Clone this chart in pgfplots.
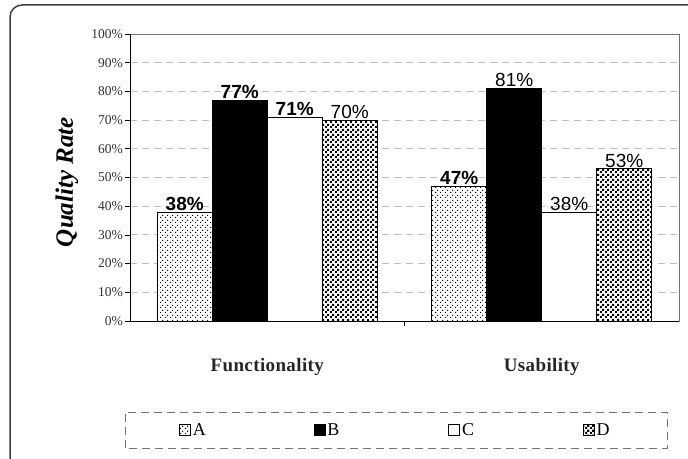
\documentclass[border=0pt]{standalone}
\usepackage{pgfplots}
\pgfplotsset{compat=1.18}
\usepackage{fontspec}
\setmainfont{Liberation Serif}
\setsansfont{Liberation Sans}
\newfontfamily\catfont[LetterSpace=2]{Liberation Serif}
\usetikzlibrary{patterns}

\pgfdeclarepatternformonly{sparsedots}{\pgfpointorigin}{\pgfpoint{5pt}{5pt}}{\pgfpoint{5pt}{5pt}}{%
 \pgfpathrectangle{\pgfpoint{0pt}{0pt}}{\pgfpoint{1.2pt}{1.2pt}}%
 \pgfpathrectangle{\pgfpoint{2.5pt}{2.5pt}}{\pgfpoint{1.2pt}{1.2pt}}%
 \pgfusepath{fill}}
\pgfdeclarepatternformonly{densedots}{\pgfpointorigin}{\pgfpoint{5pt}{5pt}}{\pgfpoint{5pt}{5pt}}{%
 \pgfpathrectangle{\pgfpoint{0pt}{0pt}}{\pgfpoint{2.3pt}{2.3pt}}%
 \pgfpathrectangle{\pgfpoint{2.5pt}{2.5pt}}{\pgfpoint{2.3pt}{2.3pt}}%
 \pgfusepath{fill}}

\begin{document}
\begin{tikzpicture}[x=1pt,y=1pt]
\useasboundingbox (0,0) rectangle (688,458);
\draw[line width=1.5pt, draw=black!75, rounded corners=12pt] (10,-20) rectangle (705,453);
\begin{axis}[
 at={(130pt,137pt)}, anchor=south west,
 width=549pt, height=287pt, scale only axis,
 ybar=0pt, bar width=55pt,
 xmin=-0.5, xmax=1.5, ymin=0, ymax=100,
 xtick={0.5}, xticklabels={},
 extra x ticks={0,1}, extra x tick labels={Functionality,Usability},
 extra x tick style={major tick length=0pt, grid=none,
   tick label style={font=\catfont\bfseries\fontsize{19}{19}\selectfont, text=black!85, yshift=-34pt}},
 ytick={0,10,...,100},
 yticklabels={0\%,10\%,20\%,30\%,40\%,50\%,60\%,70\%,80\%,90\%,100\%},
 yticklabel style={font=\fontsize{13.5}{13.5}\selectfont, text=black!80, inner sep=2pt},
 tick align=outside, major tick length=5pt,
 xtick pos=bottom, ytick pos=left,
 tick style={black, line width=0.7pt},
 ymajorgrids,
 grid style={draw=black!25, line width=0.8pt, dash pattern=on 7pt off 5pt},
 axis line style={draw=black!55, line width=0.8pt},
 ylabel={\bfseries\itshape Quality Rate},
 ylabel style={font=\fontsize{25}{25}\selectfont, at={(axis description cs:-0.1148,0.484)}, anchor=center},
 nodes near coords={\pgfplotspointmeta},
 point meta=explicit symbolic,
 every node near coord/.append style={font=\sffamily\fontsize{19}{19}\selectfont, inner sep=1pt},
 legend style={draw=none, fill=none, at={(axis description cs:0.0893,-0.3798)}, anchor=west,
   legend columns=4, inner sep=0pt, nodes={inner sep=2pt, font=\fontsize{18}{18}\selectfont},
   /tikz/column sep=0pt},
 legend image code/.code={\draw[#1,line width=0.6pt] (0pt,-5.5pt) rectangle (11pt,5.5pt);},
]
\addplot[fill=white, draw=black, line width=0.8pt, postaction={pattern=sparsedots}]
  coordinates {(0,38) [{\bfseries 38\%}] (1,47) [{\bfseries 47\%}]};
\addlegendentry{\makebox[119pt][l]{A}}
\addplot[fill=black, draw=black, line width=0.8pt]
  coordinates {(0,77) [{\bfseries 77\%}] (1,81) [{81\%}]};
\addlegendentry{\makebox[119pt][l]{B}}
\addplot[fill=white, draw=black, line width=0.8pt]
  coordinates {(0,71) [{\bfseries 71\%}] (1,38) [{38\%}]};
\addlegendentry{\makebox[119pt][l]{C}}
\addplot[fill=white, draw=black, line width=0.8pt, postaction={pattern=densedots}]
  coordinates {(0,70) [{70\%}] (1,53) [{53\%}]};
\addlegendentry{D}
\draw[black, line width=0.9pt] (rel axis cs:0,1) -- (rel axis cs:0,0) -- (rel axis cs:1,0);
\end{axis}
\draw[black!55, line width=1pt, dash pattern=on 8pt off 5pt] (125,10) rectangle (667,46);
\end{tikzpicture}
\end{document}
